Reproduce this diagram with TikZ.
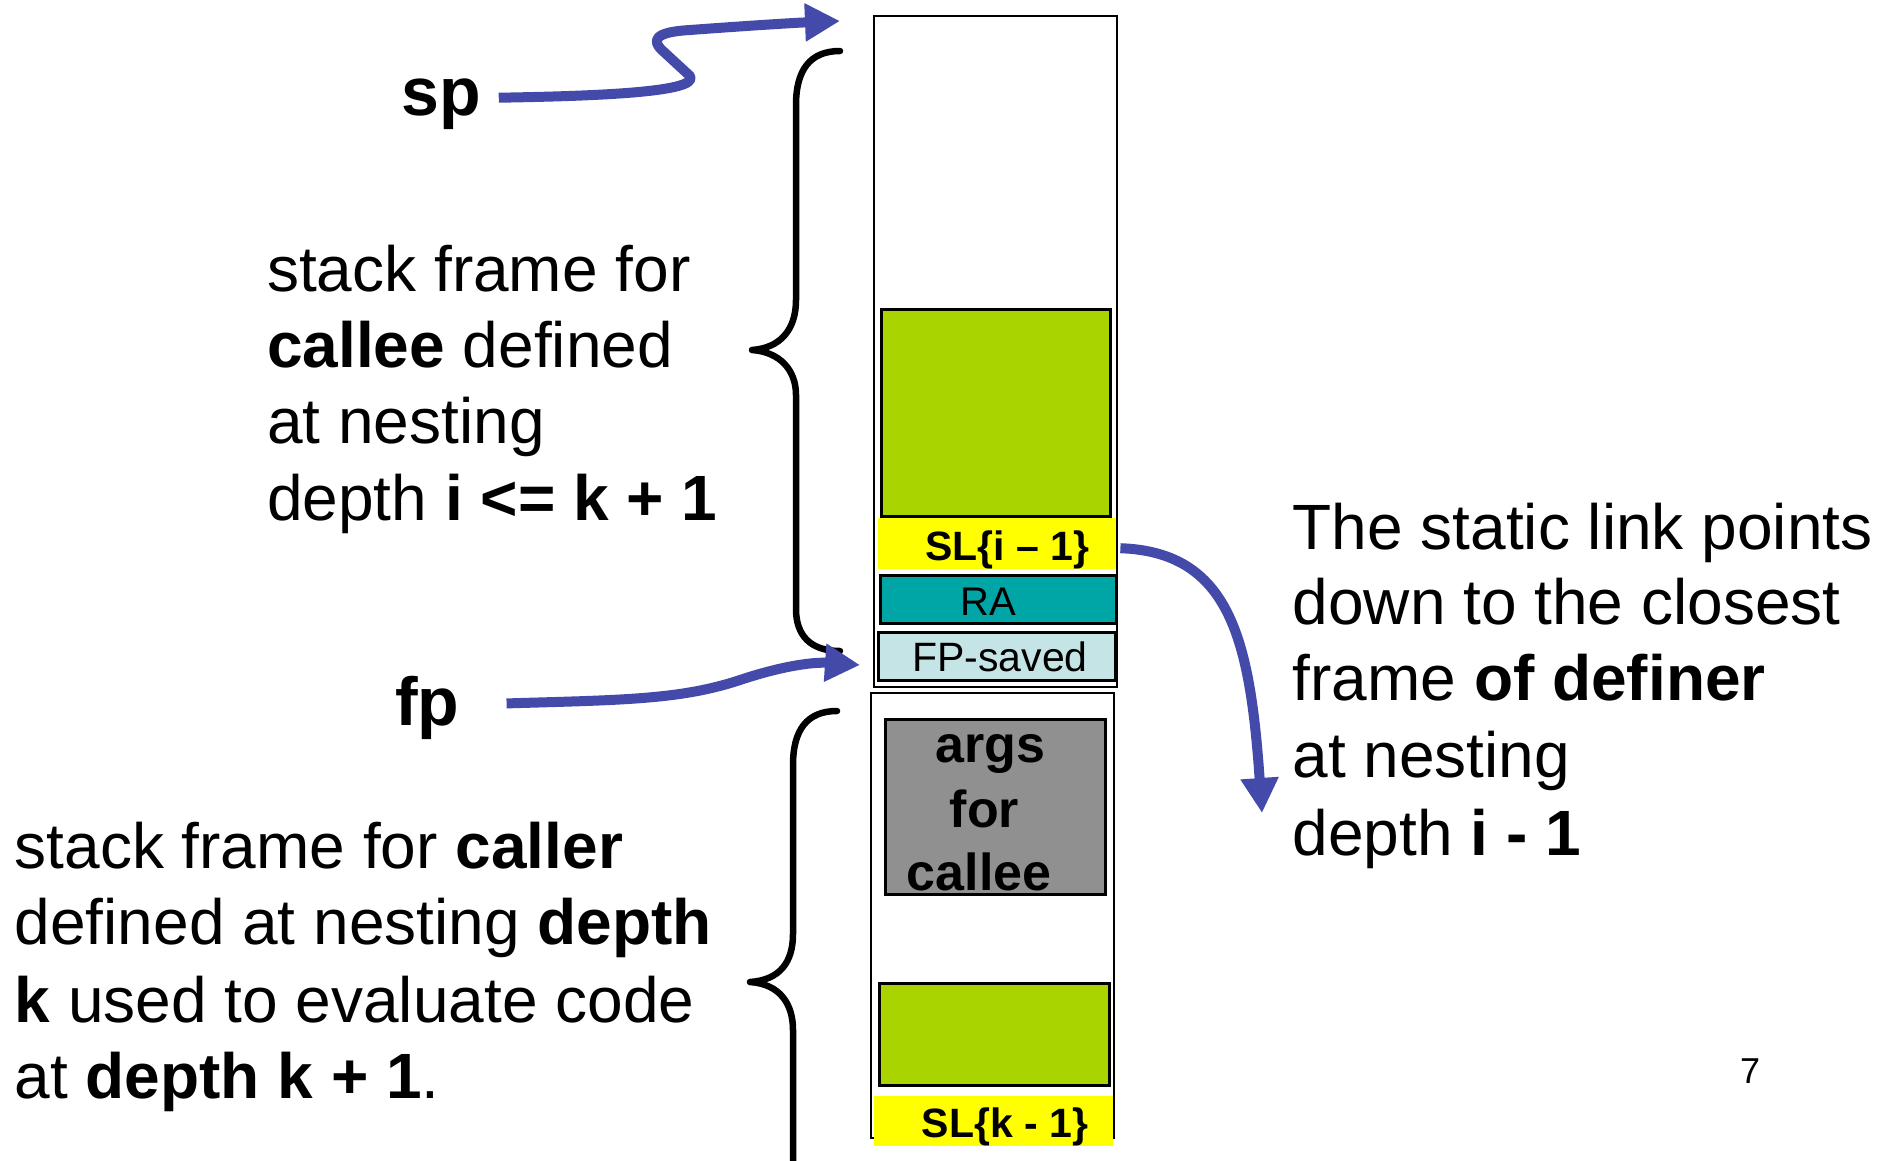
\documentclass[tikz,border=0pt]{standalone}
\usepackage{fontspec}
\setmainfont{Liberation Sans}
\usetikzlibrary{arrows.meta}
\definecolor{linkblue}{RGB}{68,74,170}
\definecolor{frameGreen}{RGB}{170,212,0}
\definecolor{slYellow}{RGB}{255,255,0}
\definecolor{raTeal}{RGB}{0,166,166}
\definecolor{fpCyan}{RGB}{196,228,230}
\definecolor{argsGray}{RGB}{144,144,144}
\begin{document}
\begin{tikzpicture}[x=1pt,y=-1pt,
  frame/.style={draw=black, line width=2.2pt, fill=white, inner sep=0pt, anchor=north west},
  cell/.style={draw=black, line width=2.6pt, inner sep=0pt, anchor=north west},
  band/.style={inner sep=0pt, anchor=north west},
  celltxt/.style={anchor=base, inner sep=0pt},
  body/.style={anchor=base west, inner sep=0pt, font=\fontsize{64}{76}\selectfont},
  reg/.style={anchor=base west, inner sep=0pt, font=\bfseries\fontsize{68}{68}\selectfont},
  link/.style={draw=linkblue, line width=10pt, line join=round,
    -{Triangle[length=35pt,width=36pt]}},
  brace/.style={draw=black, line width=6.5pt, line cap=round, line join=round}]
\useasboundingbox (0,0) rectangle (1896,1160);

% ---- callee frame (upper stack frame) ----
\node[frame, minimum width=243pt, minimum height=671.5pt] (upper) at (873,14.5) {};
\node[cell, fill=frameGreen, minimum width=229pt, minimum height=207pt] (locI) at (880,308) {};
\node[band, fill=slYellow, minimum width=238pt, minimum height=51pt] (sli) at (878,518) {};
\node[cell, fill=raTeal, minimum width=236pt, minimum height=48pt] (ra) at (879,574) {};
\node[cell, fill=fpCyan, minimum width=237pt, minimum height=48pt] (fps) at (877,631) {};
\node[celltxt, font=\bfseries\fontsize{41}{41}\selectfont] (sliT) at (1007.5,560) {SL\{i – 1\}};
\node[celltxt, font=\fontsize{40}{40}\selectfont] (raT) at (988.5,615) {RA};
\node[celltxt, font=\fontsize{41}{41}\selectfont] (fpsT) at (1000,671) {FP-saved};

% ---- caller frame (lower stack frame) ----
\node[frame, minimum width=243pt, minimum height=445pt] (lower) at (869.5,692) {};
\node[cell, fill=argsGray, minimum width=220pt, minimum height=175pt] (args) at (884,718) {};
\node[celltxt, font=\bfseries\fontsize{52}{52}\selectfont] (argsA) at (990,762) {args};
\node[celltxt, font=\bfseries\fontsize{52}{52}\selectfont] (argsB) at (984.5,827) {for};
\node[celltxt, font=\bfseries\fontsize{52}{52}\selectfont] (argsC) at (979,890) {callee};
\node[cell, fill=frameGreen, minimum width=230pt, minimum height=102pt] (locK) at (878,982) {};
\node[band, fill=slYellow, minimum width=239pt, minimum height=50pt] (slk) at (874,1096) {};
\node[celltxt, font=\bfseries\fontsize{41}{41}\selectfont] (slkT) at (1005,1137) {SL\{k - 1\}};

% ---- braces ----
\draw[brace] (840,51) .. controls (810,51) and (796,70) .. (796,105) -- (796,300)
  .. controls (796,330) and (780,348) .. (752,350)
  .. controls (780,352) and (796,370) .. (796,395) -- (796,609)
  .. controls (796,635) and (810,651) .. (840,651);
\draw[brace] (837,711) .. controls (807,711) and (793,730) .. (793,765) -- (793,934)
  .. controls (793,962) and (780,980) .. (750,982)
  .. controls (780,984) and (793,1004) .. (793,1030) -- (793,1170);

% ---- register labels ----
\node[reg] (sp) at (401,115) {sp};
\node[reg] (fp) at (395,725) {fp};

% ---- explanatory text ----
\node[body] (ce1) at (267,291.5) {stack frame for};
\node[body] (ce2) at (267,367.6) {\textbf{callee} defined};
\node[body] (ce3) at (267,443.8) {at nesting};
\node[body] (ce4) at (267,520) {depth \textbf{i <= k + 1}};

\node[body] (cr1) at (14.5,868) {stack frame for \textbf{caller}};
\node[body] (cr2) at (14.5,944) {defined at nesting \textbf{depth}};
\node[body] (cr3) at (14.5,1022) {\textbf{k} used to evaluate code};
\node[body] (cr4) at (14.5,1098) {at \textbf{depth k + 1}.};

\node[body] (sl1) at (1292.5,549) {The static link points};
\node[body] (sl2) at (1292.5,624) {down to the closest};
\node[body] (sl3) at (1292.5,700) {frame \textbf{of definer}};
\node[body] (sl4) at (1292.5,777.5) {at nesting};
\node[body] (sl5) at (1292.5,855) {depth \textbf{i - 1}};

\node[anchor=base, inner sep=0pt, font=\fontsize{36}{36}\selectfont] (page) at (1750,1083) {7};

% ---- pointer arrows ----
\coordinate (spTip) at (840,21);
\coordinate (fpTip) at (860,665);
\coordinate (slTip) at (1262,813);
\draw[link] ([xshift=18pt,yshift=6pt]sp.east) .. controls (600,96) and (700,92) .. (690,76)
  -- (664,52) .. controls (650,40) and (655,32) .. (690,30)
  .. controls (730,27) and (790,23) .. (spTip);
\draw[link] ([xshift=47pt,yshift=4pt]fp.east) .. controls (620,700) and (680,700) .. (740,680)
  .. controls (785,665) and (815,662) .. (fpTip);
\draw[link] ([xshift=4pt,yshift=-4.5pt]sli.east) .. controls (1230,552) and (1250,640) .. (slTip);
\end{tikzpicture}
\end{document}
